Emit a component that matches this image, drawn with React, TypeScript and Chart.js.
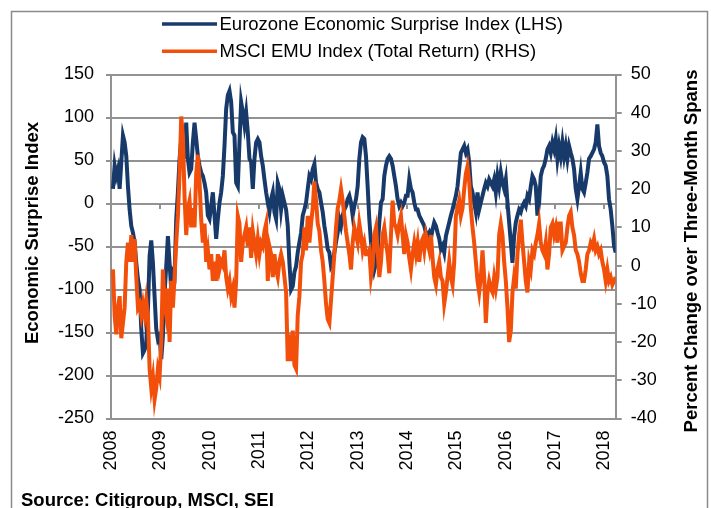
import { useEffect, useRef } from "react";
import { Chart, registerables } from "chart.js";

Chart.register(...registerables);

// ---- time axis: readings roughly every 12.3 days, starting mid-January 2008 ----
const START_YEAR = 2008.04;
const STEP_YEARS = 0.03374;

// ---- Eurozone Economic Surprise Index (LHS) ----
const surprise2008to2010 = [
  17, 44, 32, 40, 17, 48, 79, 71, 55, 20,
  -7, -26, -34, -45, -69, -88, -100, -146, -174, -170,
  -162, -123, -61, -43, -69, -108, -146, -158, -154, -181,
  -154, -104, -73, -38, -69, -100, -80, -84, -18, 13,
  52, 75, 71, 52, 94, 52, 36, 40, 71, 94,
  75, 55, 44, 36, 32, 24, 13, -14, -18, -3,
  13, -14, -41, -18, 1, 13, 32, 67, 110, 126,
  131, 118, 83, 79, 24, 20, 71,
];
const surprise2010to2013 = [
  118, 106, 91, 106, 83, 52, 48, 17, 52, 71,
  75, 71, 55, 44, 28, 13, 1, -10, 5, 13,
  -10, -18, 24, 17, -7, 9, 1, -7, -26, -69,
  -100, -96, -80, -73, -57, -45, -34, -14, -7, 1,
  17, 32, 28, 40, 46, 24, 17, 13, 1, -10,
  -26, -38, -53, -57, -73, -69, -57, -45, -34, -18,
  -26, -14, -7, -3, 5, 9, 1, -14, -3, 5,
  20, 52, 71, 77, 75, 55,
];
const surprise2013to2015 = [
  20, -18, -45, -61, -77, -69, -53, -22, 1, 5,
  32, 44, 52, 55, 52, 44, 32, 20, 5, -3,
  1, -3, 1, 9, 9, 28, 17, 13, 1, -7,
  -7, -14, -18, -22, -26, -34, -38, -34, -41, -30,
  -22, -26, -34, -41, -53, -49, -57, -38, -30, -22,
  -14, -7, 1, 9, 20, 40, 59, 63, 67, 59,
  63, 48, 20, 13, 1, -10, 13, -7, 1, 9,
  17, 24, 20, 28, 24,
];
const surprise2015to2018 = [
  20, 28, 13, 32, 20, 36, 24, 17, 28, 1,
  -22, -45, -69, -38, -22, -14, -7, -10, -3, 1,
  -3, 9, 5, 20, 32, 28, 20, -14, 1, 32,
  40, 44, 52, 63, 67, 59, 71, 63, 75, 52,
  67, 55, 71, 55, 67, 52, 67, 59, 52, 40,
  17, 5, 20, 36, 17, 13, 24, 36, 52, 55,
  59, 63, 71, 92, 67, 59, 55, 48, 44, 32,
  5, -7, -26, -49, -57,
];

// ---- MSCI EMU Index (Total Return), % change over three-month spans (RHS) ----
const msci2008to2010 = [
  -1, -13, -18, -11, -8, -19, -15, -11, 1, 6,
  1, 8, 1, 7, -3, -11, -10, -13, -10, -13,
  -9, -13, -27, -32, -29, -35, -32, -27, -29, -20,
  -1, -10, -13, -6, -20, -4, -11, -3, 6, 13,
  24, 39, 34, 18, 8, 15, 17, 10, 15, 10,
  24, 29, 22, 12, 6, 11, 1, 4, -1, 3,
  -4, 1, -4, 3, -1, 1, 0, 4, -3, -6,
  -4, -8, -6, -11, -4, 13, 11,
];
const msci2010to2013 = [
  1, 6, 8, 10, 5, 10, 2, 9, 6, 3,
  7, 3, 6, 5, 9, 11, -4, 5, 3, -3,
  3, -1, -3, 1, 3, 1, -3, -7, -25, -18,
  -25, -17, -26, -27, -13, -8, 1, 3, 10, 4,
  13, 6, 11, 15, 22, 17, 11, 9, 4, 1,
  -4, -10, -14, -15, -9, -3, 3, 10, 15, 17,
  20, 17, 13, 9, 6, 3, -1, 6, 10, 8,
  6, 11, 8, 4, 6, 3,
];
const msci2013to2015 = [
  3, 4, -3, 0, 8, 10, 4, -3, 1, 8,
  10, 6, 3, -2, 8, 17, 11, 10, 8, 11,
  13, 8, 3, 8, 6, 2, -1, 3, 6, 3,
  6, 1, 6, 7, 4, 8, 6, 4, 8, 2,
  -3, -5, -1, 1, -3, -4, -10, -7, -3, 1,
  -3, -5, 1, 13, 15, 17, 13, 15, 20, 24,
  26, 22, 15, 10, 6, 1, -4, -7, -3, 4,
  -3, -15, -7, -4, -6,
];
const msci2015to2018 = [
  -7, -3, -6, -3, 8, 11, 8, 1, -4, -11,
  -20, -17, -7, -3, -6, 3, 8, 12, 6, 1,
  -4, -7, 1, -1, 4, 3, 6, 8, 11, 6,
  4, 3, 6, -1, 3, 10, 11, 8, 10, 6,
  11, 11, 4, 5, 6, 10, 13, 14, 10, 8,
  4, 3, 1, -2, -4, -4, -1, 3, 4, 6,
  5, 7, 4, 5, 3, 4, 1, -1, -4, -1,
  -4, -3, -5, -4, -3,
];

const yearTicks = [2008, 2009, 2010, 2011, 2012, 2013, 2014, 2015, 2016, 2017, 2018];
const seriesLabels = [
  "Eurozone Economic Surprise Index (LHS)",
  "MSCI EMU Index (Total Return) (RHS)",
];
const leftTitle = "Economic Surprise Index";
const rightTitle = "Percent Change over Three-Month Spans";
const sourceNote = "Source: Citigroup, MSCI, SEI";

// ---- styles ----
const FONT = "'Liberation Sans', Arial, Helvetica, sans-serif";
const BLUE = "#183A6B";
const ORANGE = "#F2500A";
const GRID = "#929292";
const W = 711;
const H = 508;

function toPoints(values: number[]) {
  return values.map((v, i) => ({ x: START_YEAR + i * STEP_YEARS, y: v }));
}

const decorPlugin = {
  id: "decor",
  beforeDatasetsDraw(chart: any) {
    const ctx = chart.ctx;
    const xs = chart.scales.x;
    const ys = chart.scales.y;
    const y0 = Math.round(ys.getPixelForValue(0));
    ctx.save();
    ctx.strokeStyle = GRID;
    ctx.lineWidth = 2;
    yearTicks.forEach((t) => {
      const px = Math.round(xs.getPixelForValue(t));
      ctx.beginPath();
      ctx.moveTo(px, y0);
      ctx.lineTo(px, y0 + 5);
      ctx.stroke();
    });
    ctx.restore();
  },
  afterDraw(chart: any) {
    const ctx = chart.ctx;
    ctx.save();
    // outer frame
    ctx.strokeStyle = "#8a8a8a";
    ctx.lineWidth = 1.5;
    ctx.strokeRect(11.5, 11.5, 696, 600);

    // legend
    const rows = [
      { lineY: 24, baseY: 30 },
      { lineY: 51.3, baseY: 57.3 },
    ];
    chart.data.datasets.forEach((ds: any, i: number) => {
      const r = rows[i];
      ctx.strokeStyle = ds.borderColor;
      ctx.lineWidth = 3.5;
      ctx.lineCap = "butt";
      ctx.beginPath();
      ctx.moveTo(162, r.lineY);
      ctx.lineTo(217, r.lineY);
      ctx.stroke();
      ctx.fillStyle = "#000";
      ctx.font = `18.5px ${FONT}`;
      ctx.textAlign = "left";
      ctx.textBaseline = "alphabetic";
      ctx.fillText(ds.label, 219.5, r.baseY);
    });

    // axis titles
    ctx.fillStyle = "#000";
    ctx.font = `bold 18.5px ${FONT}`;
    ctx.textAlign = "center";
    ctx.textBaseline = "alphabetic";
    ctx.save();
    ctx.translate(37.5, 233);
    ctx.rotate(-Math.PI / 2);
    ctx.fillText(leftTitle, 0, 0);
    ctx.restore();

    ctx.save();
    ctx.translate(697, 251);
    ctx.rotate(-Math.PI / 2);
    ctx.fillText(rightTitle, 0, 0);
    ctx.restore();

    // source
    ctx.textAlign = "left";
    ctx.fillText(sourceNote, 21, 506);
    ctx.restore();
  },
};

export default function App() {
  const canvasRef = useRef<HTMLCanvasElement | null>(null);

  useEffect(() => {
    if (!canvasRef.current) return;
    const tickFont = { family: FONT, size: 18 };
    const surprise = [
      ...surprise2008to2010,
      ...surprise2010to2013,
      ...surprise2013to2015,
      ...surprise2015to2018,
    ];
    const msci = [...msci2008to2010, ...msci2010to2013, ...msci2013to2015, ...msci2015to2018];

    const chart = new Chart(canvasRef.current, {
      type: "line",
      data: {
        datasets: [
          {
            label: seriesLabels[0],
            data: toPoints(surprise),
            borderColor: BLUE,
            backgroundColor: BLUE,
            borderWidth: 4,
            pointRadius: 0,
            tension: 0,
            yAxisID: "y",
            order: 1,
          },
          {
            label: seriesLabels[1],
            data: toPoints(msci),
            borderColor: ORANGE,
            backgroundColor: ORANGE,
            borderWidth: 4,
            pointRadius: 0,
            tension: 0,
            yAxisID: "y1",
            order: 0,
          },
        ],
      },
      options: {
        responsive: false,
        animation: false,
        events: [],
        layout: { padding: { top: 74.5, left: 0, right: 0, bottom: 0 } },
        plugins: {
          legend: { display: false },
          tooltip: { enabled: false },
          title: { display: false },
        },
        scales: {
          x: {
            type: "linear",
            min: 2008,
            max: 2018.23,
            afterBuildTicks: (s: any) => {
              s.ticks = yearTicks.map((v) => ({ value: v }));
            },
            afterFit: (s: any) => {
              s.height = H - 418.5;
            },
            grid: { display: false, drawTicks: false },
            border: { display: false },
            ticks: {
              autoSkip: false,
              minRotation: 90,
              maxRotation: 90,
              padding: 12,
              color: "#000",
              font: tickFont,
              callback: (v: any) => String(v),
            },
          },
          y: {
            position: "left",
            min: -250,
            max: 150,
            afterFit: (s: any) => {
              s.width = 111;
            },
            ticks: { stepSize: 50, padding: 12, color: "#000", font: tickFont },
            grid: { color: GRID, lineWidth: 2, tickLength: 5, drawTicks: true },
            border: { display: true, color: GRID, width: 2 },
          },
          y1: {
            position: "right",
            min: -40,
            max: 50,
            afterFit: (s: any) => {
              s.width = W - 615.7;
            },
            ticks: { stepSize: 10, padding: 9, color: "#000", font: tickFont },
            grid: { drawOnChartArea: false, color: GRID, lineWidth: 2, tickLength: 6, drawTicks: true },
            border: { display: true, color: GRID, width: 2 },
          },
        },
      },
      plugins: [decorPlugin],
    } as any);

    return () => chart.destroy();
  }, []);

  return (
    <div style={{ position: "absolute", left: 0, top: 0, width: W, height: H, background: "#fff" }}>
      <canvas ref={canvasRef} width={W} height={H} style={{ display: "block" }} />
    </div>
  );
}
